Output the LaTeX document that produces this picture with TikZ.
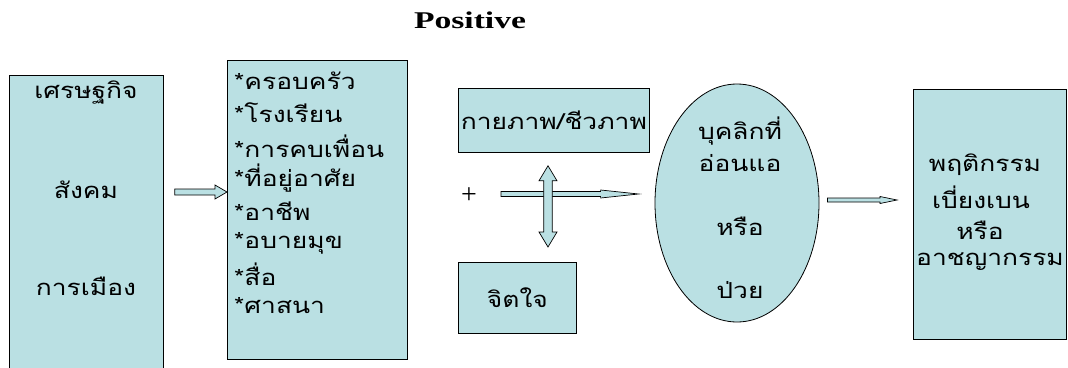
\documentclass[tikz,border=0pt]{standalone}
\usepackage{fontspec}
\usetikzlibrary{calc,shapes.geometric}
\newfontfamily\thaifont[Script=Thai,FakeStretch=1.2]{Loma}
\newfontfamily\latinserif{Liberation Serif}
\newfontfamily\titleserif[FakeStretch=1.4]{Liberation Serif}
\definecolor{boxfill}{RGB}{186,224,227}
\tikzset{
  panel/.style={draw=black, fill=boxfill, line width=0.8pt, inner sep=0pt},
  thtext/.style={font=\thaifont\fontsize{22}{24}\selectfont, inner sep=0pt},
  blockarrow/.style={draw=black, fill=boxfill, line width=0.7pt, line join=miter},
}
\begin{document}
\begin{tikzpicture}[x=1pt,y=-1pt]
\useasboundingbox (0,0) rectangle (1068,367);
% title
\node[font=\titleserif\bfseries\fontsize{24}{26}\selectfont, inner sep=0pt] (title) at (470,20) {Positive};
% left box
\node[panel, minimum width=154pt, minimum height=300pt, anchor=north west] (eco) at (9,75) {};
\node[thtext] (t1) at (86,93) {เศรษฐกิจ};
\node[thtext] (t2) at (86,190) {สังคม};
\node[thtext] (t3) at (86,286) {การเมือง};
% factor box
\node[panel, minimum width=180pt, minimum height=299pt, anchor=north west] (fac) at (227,60) {};
\node[thtext, anchor=west] (f1) at (234,81) {*ครอบครัว};
\node[thtext, anchor=west] (f2) at (234,113) {*โรงเรียน};
\node[thtext, anchor=west] (f3) at (234,146) {*การคบเพื่อน};
\node[thtext, anchor=west] (f4) at (234,178) {*ที่อยู่อาศัย};
\node[thtext, anchor=west] (f5) at (234,211) {*อาชีพ};
\node[thtext, anchor=west] (f6) at (234,243) {*อบายมุข};
\node[thtext, anchor=west] (f7) at (234,274) {*สื่อ};
\node[thtext, anchor=west] (f8) at (234,306) {*ศาสนา};
% physical / mental boxes
\node[panel, minimum width=191pt, minimum height=64pt, anchor=north west] (phys) at (458,88) {};
\node[thtext] at (phys.center) {กายภาพ/ชีวภาพ};
\node[panel, minimum width=118pt, minimum height=71pt, anchor=north west] (mind) at (458,262) {};
\node[thtext] at (mind.center) {จิตใจ};
% plus
\node[font=\latinserif\fontsize{28}{30}\selectfont, inner sep=0pt] (plus) at (469,196) {+};
% ellipse
\node[panel, ellipse, minimum width=164pt, minimum height=238pt] (person) at (737,203) {};
\node[thtext] at (740,131) {บุคลิกที่};
\node[thtext] at (740,163) {อ่อนแอ};
\node[thtext] at (740,226) {หรือ};
\node[thtext] at (740,290) {ป่วย};
% outcome box
\node[panel, minimum width=153pt, minimum height=250pt, anchor=north west] (out) at (913,89) {};
\node[thtext] at (985,165) {พฤติกรรม};
\node[thtext] at (981,197) {เบี่ยงเบน};
\node[thtext] at (980,230) {หรือ};
\node[thtext] at (990,262) {อาชญากรรม};
% arrow: left box -> factor box
\coordinate (a1s) at ($(eco.east |- 0,192)+(11,0)$);
\coordinate (a1e) at (fac.west |- 0,192);
\draw[blockarrow] ($(a1s)+(0,-3)$) -- ($(a1e)+(-12,-3)$) -- ($(a1e)+(-12,-7)$) -- (a1e)
  -- ($(a1e)+(-12,7)$) -- ($(a1e)+(-12,3)$) -- ($(a1s)+(0,3)$) -- cycle;
% horizontal arrow towards ellipse
\coordinate (a2s) at (501,194);
\coordinate (a2e) at ($(person.west |- 0,194)+(-16,0)$);
\draw[blockarrow] ($(a2s)+(0,-2.5)$) -- ($(a2e)+(-38,-2.5)$) -- ($(a2e)+(-38,-4)$) -- (a2e)
  -- ($(a2e)+(-38,4)$) -- ($(a2e)+(-38,2.5)$) -- ($(a2s)+(0,2.5)$) -- cycle;
% vertical double arrow between phys and mind
\coordinate (a3t) at ($(phys.south -| 548,0)+(0,13)$);
\coordinate (a3b) at ($(mind.north -| 548,0)+(0,-15)$);
\draw[blockarrow] (a3t) -- ($(a3t)+(9,15)$) -- ($(a3t)+(4.3,15)$) -- ($(a3b)+(4.3,-15)$)
  -- ($(a3b)+(9,-15)$) -- (a3b) -- ($(a3b)+(-9,-15)$) -- ($(a3b)+(-4.3,-15)$)
  -- ($(a3t)+(-4.3,15)$) -- ($(a3t)+(-9,15)$) -- cycle;
% arrow: ellipse -> outcome
\coordinate (a4s) at ($(person.east |- 0,200)+(8,0)$);
\coordinate (a4e) at ($(out.west |- 0,200)+(-16,0)$);
\draw[blockarrow] ($(a4s)+(0,-2)$) -- ($(a4e)+(-17,-2)$) -- ($(a4e)+(-17,-3.5)$) -- (a4e)
  -- ($(a4e)+(-17,3.5)$) -- ($(a4e)+(-17,2)$) -- ($(a4s)+(0,2)$) -- cycle;
\end{tikzpicture}
\end{document}
